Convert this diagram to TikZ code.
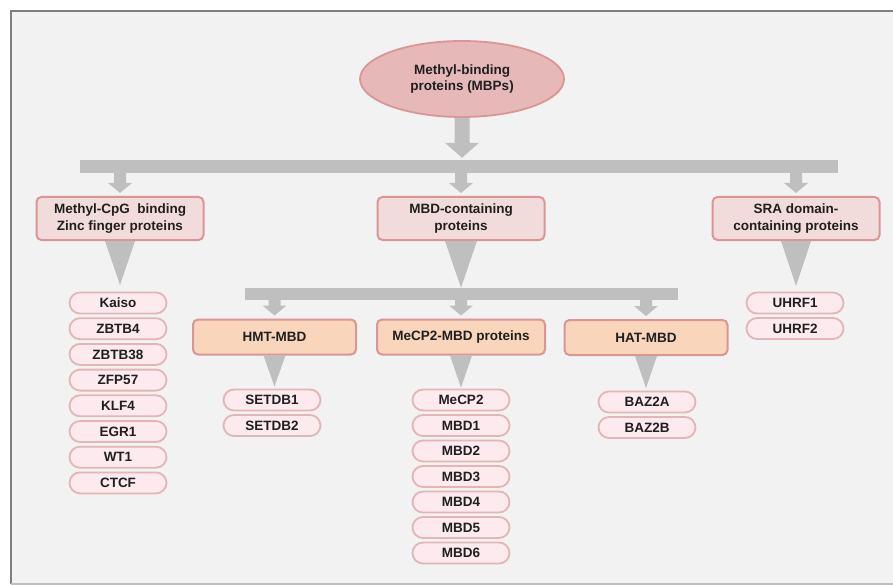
\documentclass[tikz,border=0pt]{standalone}
\usepackage{fontspec}
\setmainfont{Liberation Sans}
\usetikzlibrary{shapes.geometric,shapes.misc,calc}
\definecolor{bgc}{HTML}{F2F2F2}
\definecolor{framec}{HTML}{7F7F7F}
\definecolor{arrc}{HTML}{BFBFBF}
\definecolor{ellf}{HTML}{E6B9B8}
\definecolor{ellb}{HTML}{D99694}
\definecolor{boxf}{HTML}{F2DCDB}
\definecolor{boxbd}{HTML}{D99694}
\definecolor{peach}{HTML}{F9D5BC}
\definecolor{pillf}{HTML}{FCEAEE}
\definecolor{pillb}{HTML}{E3B5B5}
\definecolor{txt}{HTML}{1F1F1F}
\newcommand{\blkarrow}[5]{%
  \fill[arrc] let \p1=(#1), \p2=(#2) in
    (\x1-#3pt,\y1) -- (\x1+#3pt,\y1) -- (\x1+#3pt,\y2+#5pt) -- (\x1+#4pt,\y2+#5pt)
    -- (\x1,\y2) -- (\x1-#4pt,\y2+#5pt) -- (\x1-#3pt,\y2+#5pt) -- cycle;}
\newcommand{\funnel}[3]{%
  \fill[arrc] let \p1=(#1), \p2=(#2) in
    (\x1-#3pt,\y1) -- (\x1+#3pt,\y1) -- (\x1,\y2) -- cycle;}
\tikzset{
  lbl/.style={font=\fontsize{13.5}{16.5}\selectfont\bfseries, text=txt, align=center, inner sep=0pt},
  ell/.style={ellipse, draw=ellb, fill=ellf, line width=1.8pt, minimum width=204pt, minimum height=76pt, lbl},
  boxa/.style={rectangle, rounded corners=5pt, draw=boxbd, fill=boxf, line width=2pt, minimum width=167pt, minimum height=43pt, lbl},
  boxc/.style={rectangle, rounded corners=5pt, draw=boxbd, fill=peach, line width=2pt, minimum width=163pt, minimum height=35pt, lbl},
  pill/.style={rounded rectangle, draw=pillb, fill=pillf, line width=1.8pt, minimum width=97pt, minimum height=21pt, lbl},
  barn/.style={rectangle, fill=arrc, inner sep=0pt},
}
\begin{document}
\begin{tikzpicture}[x=1pt,y=-1pt]
\useasboundingbox (0,0) rectangle (893,585);
\fill[white] (0,0) rectangle (893,585);
\fill[bgc] (11,11) rectangle (893,584);
\draw[framec, line width=2.5pt] (11,584) -- (11,11) -- (893,11);
\draw[arrc, line width=1.5pt] (11,584) -- (893,584);

\node[ell] (mbp) at (462,79) {Methyl-binding\\proteins (MBPs)};
\node[barn, minimum width=758pt, minimum height=13pt] (bar1) at (459,166.5) {};
\node[boxa] (zf) at (120,218.5) {Methyl-CpG\ \ binding\\Zinc finger proteins};
\node[boxa] (mbd) at (461,218.5) {MBD-containing\\proteins};
\node[boxa] (sra) at (796,218.5) {SRA domain-\\containing proteins};
\node[barn, minimum width=433pt, minimum height=12pt] (bar2) at (461.5,294) {};
\node[boxc] (hmt) at (274.5,337) {HMT-MBD};
\node[boxc, minimum width=168pt] (mecp) at (461,337) {MeCP2-MBD proteins};
\node[boxc] (hat) at (646,337.5) {HAT-MBD};

\foreach \t [count=\i from 0] in {Kaiso,ZBTB4,ZBTB38,ZFP57,KLF4,EGR1,WT1,CTCF}
  \node[pill] (zfp\i) at (118,{303+25.7*\i}) {\t};
\foreach \t [count=\i from 0] in {MeCP2,MBD1,MBD2,MBD3,MBD4,MBD5,MBD6}
  \node[pill] (mp\i) at (461,{400+25.5*\i}) {\t};
\foreach \t [count=\i from 0] in {SETDB1,SETDB2}
  \node[pill] (st\i) at (272,{400+25.5*\i}) {\t};
\foreach \t [count=\i from 0] in {BAZ2A,BAZ2B}
  \node[pill] (bz\i) at (647,{402+25.5*\i}) {\t};
\foreach \t [count=\i from 0] in {UHRF1,UHRF2}
  \node[pill] (uh\i) at (795,{303+25.5*\i}) {\t};

% arrows
\blkarrow{mbp.south}{$(bar1.north)+(0,-2)$}{7.5}{17}{15}
\blkarrow{bar1.south -| zf.north}{$(zf.north)+(0,-3)$}{6}{12}{10}
\blkarrow{bar1.south -| mbd.north}{$(mbd.north)+(0,-3)$}{6}{12}{10}
\blkarrow{bar1.south -| sra.north}{$(sra.north)+(0,-3)$}{6}{12}{10}
\funnel{zf.south}{$(zf.south)+(0,44)$}{15}
\funnel{mbd.south}{bar2.north}{16}
\funnel{sra.south}{$(sra.south)+(0,45)$}{15}
\blkarrow{bar2.south -| hmt.north}{$(hmt.north)+(0,-3)$}{6}{12}{10}
\blkarrow{bar2.south -| mecp.north}{$(mecp.north)+(0,-3)$}{6}{12}{10}
\blkarrow{bar2.south -| hat.north}{$(hat.north)+(0,-3)$}{6}{12}{10}
\funnel{hmt.south}{$(hmt.south)+(0,31)$}{11}
\funnel{mecp.south}{$(mecp.south)+(0,32)$}{11}
\funnel{hat.south}{$(hat.south)+(0,32)$}{11}
\end{tikzpicture}
\end{document}
